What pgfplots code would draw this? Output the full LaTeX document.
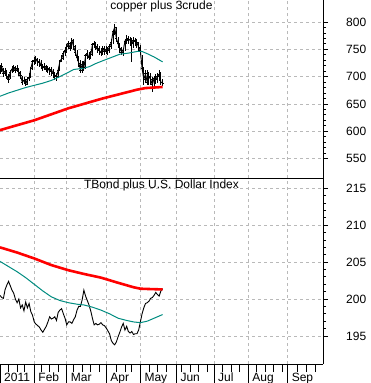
\documentclass[border=0pt]{standalone}
\usepackage{pgfplots}
\usepackage{pgfplotstable}
\pgfplotsset{compat=1.18}
\usepackage{fontspec}
\setmainfont{Liberation Sans}
\definecolor{maTeal}{RGB}{0,140,128}
\definecolor{maRed}{RGB}{255,0,0}
\definecolor{gridgray}{RGB}{185,185,185}

% copper plus 3crude: day, close, high, low
\pgfplotstableread{
d c h l
0 712 722 705
1 718 725 708
2 706 716 700
3 710 716 702
4 700 712 695
5 694 704 688
6 708 712 696
7 714 720 706
8 716 722 709
9 712 720 706
10 715 722 708
11 708 716 702
12 702 710 695
13 690 702 684
14 693 700 686
15 686 696 682
16 695 700 684
17 698 706 692
18 715 718 697
19 727 730 712
20 730 736 722
21 732 737 724
22 726 734 720
23 728 732 718
24 720 730 714
25 716 724 710
26 719 725 712
27 713 722 708
28 715 720 706
29 710 718 703
30 713 717 702
31 706 714 698
32 702 708 694
33 700 706 692
34 712 715 697
35 728 730 710
36 733 740 726
37 742 746 730
38 748 754 738
39 756 760 744
40 760 766 750
41 752 764 746
42 766 770 750
43 755 768 748
44 745 758 738
45 735 748 728
46 725 738 718
47 712 730 706
48 722 728 706
49 716 728 710
50 738 742 714
51 742 748 732
52 735 745 730
53 740 746 732
54 758 762 738
55 760 766 752
56 755 764 748
57 752 760 744
58 748 756 740
59 744 752 738
60 752 756 740
61 746 756 740
62 750 756 742
63 748 754 740
64 755 760 744
65 762 768 750
66 782 786 760
67 790 796 776
68 770 790 764
69 760 772 752
70 752 762 744
71 745 755 740
72 748 752 738
73 765 768 746
74 770 776 760
75 766 774 760
76 768 772 756
77 760 770 727
78 767 772 752
79 765 770 756
80 762 768 752
81 754 764 746
82 748 758 740
83 715 740 708
84 695 718 684
85 705 712 688
86 690 712 684
87 700 708 684
88 695 706 684
89 685 700 671
90 697 702 682
91 695 704 686
92 700 706 688
93 704 712 692
94 690 708 684
95 688 696 682
}\copper

\pgfplotstableread{
d v
0 664
5 670
10 675
15 680
20 684
25 688
30 693
35 700
40 708
43 713
48 715
52 718
56 724
60 729
65 735
70 741
75 743
80 746
83 746
86 742
90 736
95 727
}\copperTeal

\pgfplotstableread{
d v
0 602
10 611
20 620
30 631
40 642
50 651
60 660
70 668
80 676
85 679
90 680
95 681
}\copperRed

\pgfplotstableread{
d v
0 200.5
1 200.2
2 200.1
3 201.3
4 201.9
5 202.4
6 201.8
7 201.2
8 200.8
9 200.0
10 199.5
11 200.0
12 198.8
13 199.2
14 198.4
15 199.6
16 198.8
17 199.4
18 198.3
19 197.8
20 196.9
21 196.6
22 196.4
23 196.2
24 195.8
25 195.5
26 195.9
27 196.3
28 196.9
29 197.6
30 197.3
31 197.4
32 197.6
33 197.1
34 198.2
35 198.5
36 198.7
37 198.0
38 197.4
39 196.5
40 196.9
41 196.9
42 196.7
43 197.2
44 197.6
45 198.5
46 199.0
47 199.0
48 199.9
49 201.2
50 200.4
51 199.8
52 199.2
53 198.4
54 197.4
55 196.5
56 196.7
57 196.5
58 196.6
59 196.8
60 196.5
61 196.4
62 196.1
63 195.7
64 195.3
65 194.4
66 194.0
67 193.8
68 194.2
69 194.9
70 195.5
71 196.2
72 196.7
73 195.8
74 196.3
75 195.6
76 195.4
77 195.6
78 195.2
79 195.3
80 195.3
81 195.8
82 196.9
83 198.0
84 198.8
85 199.4
86 199.5
87 199.7
88 200.1
89 200.2
90 200.5
91 200.9
92 200.6
93 200.4
94 201.1
95 201.4
}\tbond

\pgfplotstableread{
d v
0 205.1
5 204.4
10 203.7
15 202.9
20 202.0
25 201.1
30 200.3
35 199.8
40 199.5
45 199.3
49 199.2
54 198.9
59 198.5
64 198.0
69 197.4
74 197.1
78 196.9
82 196.8
86 197.0
90 197.4
95 197.9
}\tbondTeal

\pgfplotstableread{
d v
0 207.0
10 206.3
20 205.5
30 204.6
40 203.9
49 203.4
59 202.9
69 202.2
78 201.6
82 201.4
88 201.35
95 201.3
}\tbondRed

\begin{document}
\fontsize{12}{14}\selectfont
\begin{tikzpicture}
\useasboundingbox (0pt,0pt) rectangle (371pt,383pt);
\pgfplotsset{
  panel/.style={
    scale only axis, width=323pt, xmin=0, xmax=188.7,
    axis y line*=right, axis x line*=bottom,
    axis line style={black, line width=1pt, -},
    tick align=outside,
    major tick length=5pt, minor tick length=3pt,
    tick style={black, line width=0.8pt},
    minor y tick num=4,
    ymajorgrids, xmajorgrids,
    grid style={gridgray, line width=0.7pt, dash pattern=on 3pt off 3pt},
    xtick={20,39,62,82,103,125,145,168},
    yticklabel style={anchor=west, xshift=14pt, font=\fontsize{12}{14}\selectfont},
    /pgf/number format/assume math mode=true,
    title style={font=\fontsize{12}{14}\selectfont, at={(0.5,1)}, anchor=north, yshift=-3pt},
  },
}
\begin{axis}[panel, at={(0pt,204.5pt)}, anchor=south west, height=178.5pt,
  ymin=513.4, ymax=840.3, ytick={550,600,...,800},
  xticklabels={}, xtick style={draw=none},
  title={copper plus 3crude}]
  \addplot[black, line width=0.9pt, mark=-, mark size=1.1pt,
    error bars/.cd, y dir=both, y explicit, error mark=none,
    error bar style={black, line width=0.9pt}]
    table[x=d, y=c, y error plus expr=\thisrow{h}-\thisrow{c}, y error minus expr=\thisrow{c}-\thisrow{l}, draw=none] {\copper};
  \addplot[maTeal, line width=1pt] table[x=d, y=v] {\copperTeal};
  \addplot[maRed, line width=2.6pt] table[x=d, y=v] {\copperRed};
\end{axis}
\begin{axis}[panel, at={(0pt,19pt)}, anchor=south west, height=185.5pt,
  ymin=191.2, ymax=216.33, ytick={195,200,...,215},
  xticklabels={Feb,Mar,Apr,May,Jun,Jul,Aug,Sep},
  extra x ticks={0}, extra x tick labels={2011}, extra x tick style={grid=none},
  minor xtick={5,10,14,24,29,34,43,48,53,58,68,73,77,87,92,97,106,111,116,121,130,135,140,150,155,160,165,174,179,184},
  xtick style={/pgfplots/major tick length=19pt, /pgfplots/minor tick length=8pt},
  xticklabel style={anchor=north west, xshift=0pt, font=\fontsize{12}{14}\selectfont},
  title={TBond plus U.S. Dollar Index}]
  \addplot[black, line width=0.9pt] table[x=d, y=v] {\tbond};
  \addplot[maTeal, line width=1pt] table[x=d, y=v] {\tbondTeal};
  \addplot[maRed, line width=2.6pt] table[x=d, y=v] {\tbondRed};
\end{axis}
\end{tikzpicture}
\end{document}
